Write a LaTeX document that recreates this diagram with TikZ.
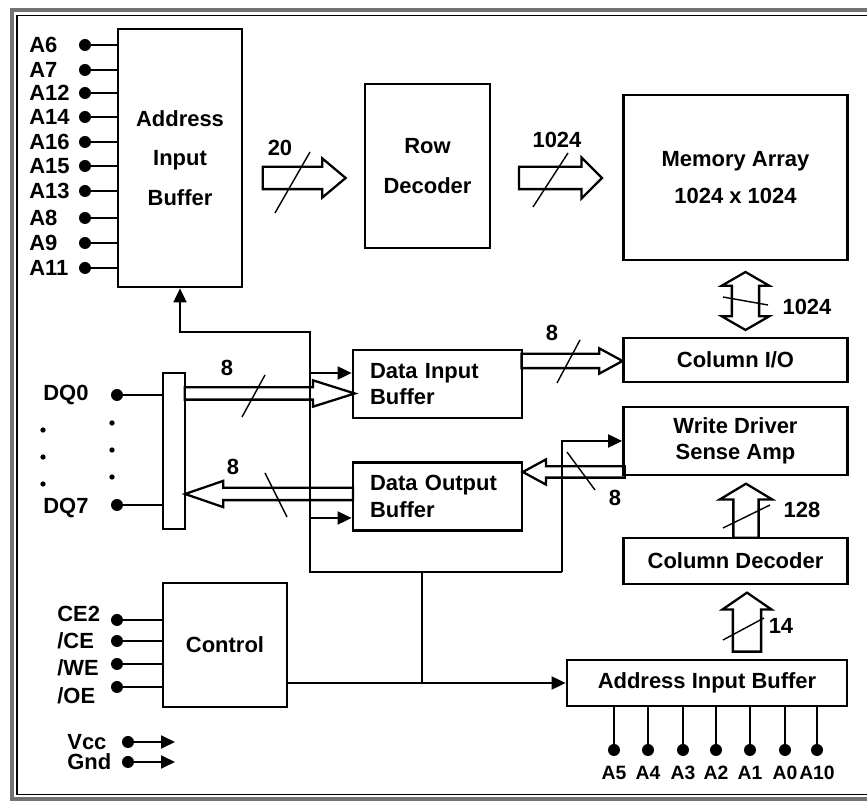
\documentclass[tikz,border=0pt]{standalone}
\usepackage{fontspec}
\setmainfont{Liberation Sans}
\usetikzlibrary{arrows.meta,shapes.arrows,positioning,calc}

\begin{document}
\begin{tikzpicture}[
    x=0.02cm, y=-0.02cm,
    blk/.style={draw, line width=1.6pt, align=center, inner sep=0pt, font=\bfseries\fontsize{12.5}{15}\selectfont},
    tallblk/.style={blk, font=\bfseries\fontsize{12.5}{22.5}\selectfont},
    datblk/.style={blk, align=left, text width=2.7cm, inner xsep=0.34cm, minimum width=3.38cm, minimum height=1.36cm},
    pin/.style={line width=1.1pt},
    dot/.style={circle, fill, inner sep=0pt, minimum size=0.24cm},
    lbl/.style={font=\bfseries\fontsize{12.5}{14}\selectfont, inner sep=0pt},
    ctl/.style={line width=1.1pt},
    tip/.style={ctl, -{Triangle[length=0.28cm, width=0.26cm]}},
    bus/.style={single arrow, draw, line width=1.3pt, inner sep=0pt, single arrow head indent=0pt},
    slash/.style={line width=0.8pt}
]
\useasboundingbox (0,0) rectangle (867,803);

% frame
\draw[line width=2.5pt, black!55] (867,10) -| (12,799) -- (867,799);
\draw[line width=0.8pt] (867,15.5) -| (17,794.5) -- (867,794.5);

% blocks
\node[tallblk, minimum width=2.48cm, minimum height=5.16cm] (abuf) at (180,158) {Address\\Input\\Buffer};
\node[tallblk, minimum width=2.5cm, minimum height=3.28cm] (rowdec) at (427.5,166) {Row\\Decoder};
\node[tallblk, font=\bfseries\fontsize{12.5}{21}\selectfont, minimum width=4.48cm, minimum height=3.3cm] (memarr) at (735.5,177.5) {Memory Array\\1024 x 1024};
\node[blk, minimum width=4.48cm, minimum height=0.88cm] (colio) at (735.5,360) {Column I/O};
\node[blk, minimum width=4.48cm, minimum height=1.36cm] (wdsa) at (735.5,441) {Write Driver\\Sense Amp};
\node[blk, minimum width=4.48cm, minimum height=0.92cm] (coldec) at (735.5,561) {Column Decoder};
\node[blk, minimum width=5.6cm, minimum height=0.92cm] (abuf2) at (707,683) {Address Input Buffer};
\node[datblk] (din) at (437.5,384) {Data Input\\Buffer};
\node[datblk] (dout) at (437.5,496.5) {Data Output\\Buffer};
\node[blk, minimum size=2.48cm] (ctrl) at (225,645) {Control};
\node[blk, minimum width=0.44cm, minimum height=3.12cm] (mux) at (174,451) {};

% address pins, left
\foreach \n/\y in {A6/45, A7/70, A12/93, A14/117, A16/142, A15/166, A13/191, A8/218, A9/243, A11/268} {
  \node[dot] (p\n) at (85,\y) {};
  \node[lbl, anchor=west] (l\n) at (29,\y) {\n};
  \draw[pin] (p\n) -- (p\n -| abuf.west);
}

% data pins
\node[dot] (pdq0) at (117,395) {};
\node[lbl, anchor=west] (ldq0) at (43,395) {DQ0};
\node[dot] (pdq7) at (117,505) {};
\node[lbl, anchor=west] (ldq7) at (43,508) {DQ7};
\draw[pin] (pdq0) -- (pdq0 -| mux.west);
\draw[pin] (pdq7) -- (pdq7 -| mux.west);
\foreach \y in {430,457,484} \fill (43,\y) circle (1.5pt);
\foreach \y in {423,450,477} \fill (112,\y) circle (1.5pt);

% control pins
\foreach \n/\t/\y/\ly in {ce2/CE2/620/614, ce/{/CE}/641/641, we/{/WE}/664/668, oe/{/OE}/687/696} {
  \node[dot] (p\n) at (117,\y) {};
  \node[lbl, anchor=west] (l\n) at (57,\ly) {\t};
  \draw[pin] (p\n) -- (p\n -| ctrl.west);
}

% supply
\node[dot] (pvcc) at (128,742) {};
\node[lbl, anchor=west] (lvcc) at (67,742) {Vcc};
\coordinate (evcc) at (175,742);
\draw[tip] (pvcc) -- (evcc);
\node[dot] (pgnd) at (128,762) {};
\node[lbl, anchor=west] (lgnd) at (67,762) {Gnd};
\coordinate (egnd) at (175,762);
\draw[tip] (pgnd) -- (egnd);

% address pins, bottom
\foreach \n/\x in {A5/614, A4/648, A3/683, A2/716, A1/750, A0/785, A10/817} {
  \node[dot] (p\n) at (\x,750) {};
  \node[lbl, font=\bfseries\fontsize{11}{13}\selectfont] (l\n) at (\x,773) {\n};
  \draw[pin] (p\n |- abuf2.south) -- (p\n);
}

% buses
\node[bus, inner ysep=0.2cm, minimum height=1.66cm, minimum width=0.74cm, single arrow head extend=0.17cm, single arrow tip angle=80] (b20) at (297.5,178) {};
\draw[slash] (b20.center) ++(-22.5,35) -- ++(35,-61);
\node[lbl] (n20) at (280,148) {20};

\node[bus, inner ysep=0.2cm, minimum height=1.66cm, minimum width=0.78cm, single arrow head extend=0.19cm, single arrow tip angle=90] (b1024) at (555,178) {};
\draw[slash] (b1024.center) ++(-22,29) -- ++(35,-54);
\node[lbl] (n1024) at (557,140) {1024};

\node[bus, double arrow, rotate=90, inner ysep=0.25cm, minimum height=1.16cm, minimum width=0.9cm, double arrow head extend=0.2cm, double arrow tip angle=120] (bcol) at (745.5,301) {};
\draw[slash] (bcol.center) ++(-22.5,-4) -- ++(45,8);
\node[lbl] (ncol) at (807,307) {1024};

\node[bus, inner ysep=0.12cm, minimum height=2.02cm, minimum width=0.46cm, single arrow head extend=0.11cm, single arrow tip angle=57] (bcolio) at (565.5,361) {};
\draw[slash] (bcolio.center) ++(-8.5,22) -- ++(23,-43);
\node[lbl] (ncolio) at (552,333) {8};

\node[bus, inner ysep=0.1cm, minimum height=3.4cm, minimum width=0.48cm, single arrow head extend=0.14cm, single arrow tip angle=35] (bdin) at (260,393.5) {};
\draw[slash] (bdin.center) ++(-18,23.5) -- ++(23,-42);
\node[lbl] (ndin) at (227,368) {8};

\node[bus, rotate=180, inner ysep=0.1cm, minimum height=3.36cm, minimum width=0.48cm, single arrow head extend=0.14cm, single arrow tip angle=38] (bdout) at (278,494) {};
\draw[slash] (bdout.center) ++(-13,-21) -- ++(22,44);
\node[lbl] (ndout) at (233,467) {8};

\node[bus, rotate=180, inner ysep=0.09cm, minimum height=2.04cm, minimum width=0.46cm, single arrow head extend=0.14cm, single arrow tip angle=57] (bread) at (579,472) {};
\draw[slash] (bread.center) ++(-12,-20) -- ++(28,38);
\node[lbl] (nread) at (615,498) {8};

\node[bus, rotate=90, inner ysep=0.23cm, minimum height=1.08cm, minimum width=1.0cm, single arrow head extend=0.27cm, single arrow tip angle=118] (b128) at (746,514.5) {};
\draw[slash] (b128.center) ++(-23,13.5) -- ++(47,-23);
\node[lbl] (n128) at (802,510) {128};

\node[bus, rotate=90, inner ysep=0.26cm, minimum height=1.18cm, minimum width=0.94cm, single arrow head extend=0.21cm, single arrow tip angle=111] (b14) at (747,627) {};
\draw[slash] (b14.center) ++(-24,13) -- ++(41,-22);
\node[lbl] (n14) at (781,626) {14};

% control wiring
\coordinate (jl) at (310,572);
\coordinate (jr) at (562,572);
\coordinate (jm) at (422,572);
\coordinate (jt) at (310,332);
\coordinate (dinctl) at ([yshift=0.22cm]din.west);
\coordinate (doutctl) at ([yshift=-0.43cm]dout.west);
\draw[tip] (jr) -- (jl) -- (jt) -| (abuf.south);
\draw[tip] (dinctl -| jl) -- (dinctl);
\draw[tip] (doutctl -| jl) -- (doutctl);
\draw[tip] (jr) |- (wdsa.west);
\draw[ctl] (jm) -- (jm |- abuf2.west);
\draw[tip] (ctrl.east |- abuf2.west) -- (abuf2.west);
\end{tikzpicture}
\end{document}
